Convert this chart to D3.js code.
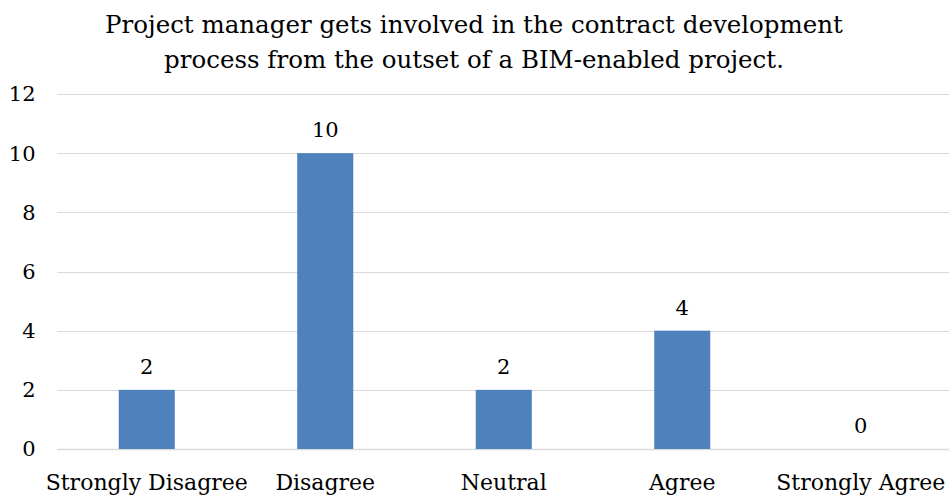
<!DOCTYPE html>
<html>
<head>
<meta charset="utf-8">
<script src="https://cdnjs.cloudflare.com/ajax/libs/d3/7.8.5/d3.min.js"></script>
<style>
  body { margin: 0; background: #fff; }
  text { font-family: "DejaVu Serif", "Liberation Serif", serif; fill: #000; }
</style>
</head>
<body>
<svg width="949" height="495"></svg>
<script>
const categories = ["Strongly Disagree", "Disagree", "Neutral", "Agree", "Strongly Agree"];
const counts = [2, 10, 2, 4, 0];
const yTicks = [0, 2, 4, 6, 8, 10, 12];
const titleLines = ["Project manager gets involved in the contract development",
                    "process from the outset of a BIM-enabled project."];

let svg = d3.select("svg");

var margin = { top: 94, right: 0, bottom: 46, left: 57.5 },
    width = 949 - margin.left - margin.right + 1,
    height = 495 - margin.top - margin.bottom;

let plot = svg.append("g")
    .attr("transform", "translate(" + margin.left + "," + margin.top + ")");

var x = d3.scaleBand()
    .domain(categories)
    .range([0, width])
    .paddingInner(0.686)
    .paddingOuter(0.343);

var y = d3.scaleLinear()
    .domain([0, 12])
    .range([height, 0]);

// gridlines
plot.selectAll(".grid")
    .data(yTicks)
    .enter()
    .append("line")
    .attr("x1", 0)
    .attr("x2", width)
    .attr("y1", d => Math.round(y(d)) + 0.5)
    .attr("y2", d => Math.round(y(d)) + 0.5)
    .attr("stroke", "#d9d9d9")
    .attr("stroke-width", d => d === 0 ? 1.5 : 1.2);

// y tick labels
plot.selectAll(".ytick")
    .data(yTicks)
    .enter()
    .append("text")
    .attr("x", -22)
    .attr("y", d => y(d))
    .attr("dy", "0.35em")
    .style("text-anchor", "end")
    .style("font-size", "21px")
    .text(d => d);

// bars
plot.selectAll(".bar")
    .data(counts)
    .enter()
    .append("rect")
    .attr("x", (d, i) => x(categories[i]))
    .attr("y", d => y(d))
    .attr("width", x.bandwidth())
    .attr("height", d => height - y(d))
    .attr("fill", "#4f81bd");

// value labels
plot.selectAll(".val")
    .data(counts)
    .enter()
    .append("text")
    .attr("x", (d, i) => x(categories[i]) + x.bandwidth() / 2)
    .attr("y", d => y(d) - 16)
    .style("text-anchor", "middle")
    .style("font-size", "21px")
    .text(d => d);

// category labels
plot.selectAll(".cat")
    .data(categories)
    .enter()
    .append("text")
    .attr("x", d => x(d) + x.bandwidth() / 2)
    .attr("y", height + 41)
    .style("text-anchor", "middle")
    .style("font-size", "22px")
    .text(d => d);

// title
svg.selectAll(".title")
    .data(titleLines)
    .enter()
    .append("text")
    .attr("x", 474)
    .attr("y", (d, i) => 33 + i * 35)
    .style("text-anchor", "middle")
    .style("font-size", "24.5px")
    .text(d => d);
</script>
</body>
</html>
